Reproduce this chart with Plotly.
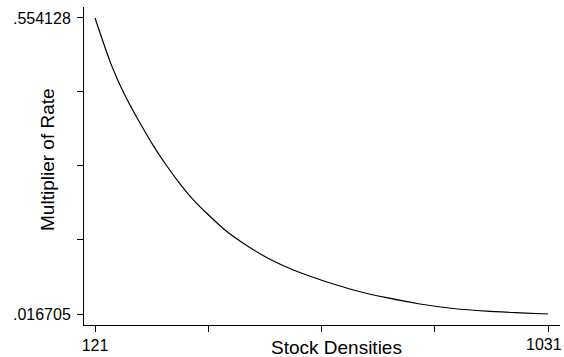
import plotly.graph_objects as go

# Estimated rate multiplier across stock densities
density = [121, 137.7, 151.1, 164.6, 177.9, 191.3, 211.4, 238.1, 265.0, 291.8,
           318.5, 345.4, 382.1, 425.7, 472.5, 519.3, 566.4, 613.2, 639.9, 707.0,
           773.9, 840.8, 907.9, 974.8, 1031]
multiplier = [0.554128, 0.5095, 0.4753, 0.4456, 0.4198, 0.3960, 0.3633, 0.3223,
              0.2858, 0.2529, 0.2239, 0.1995, 0.1692, 0.1411, 0.1160, 0.0966,
              0.0812, 0.0675, 0.0603, 0.0463, 0.0349, 0.0267, 0.0218, 0.0189,
              0.016705]

x_ticks = [121, 348.5, 576, 803.5, 1031]
x_labels = ["121", "", "", "", ""]
x_end_label = "1031"
y_ticks = [0.016705, 0.15106, 0.285417, 0.419773, 0.554128]
y_labels = [".016705", "", "", "", ".554128"]

FONT = "Liberation Sans, Arial, sans-serif"
TICK_SIZE = 16
TITLE_SIZE = 19

fig = go.Figure(
    go.Scatter(
        x=density, y=multiplier, mode="lines",
        line=dict(color="black", width=1.2, shape="spline", smoothing=0.6),
        hoverinfo="skip",
    )
)

fig.update_layout(
    width=564, height=357,
    margin=dict(l=84, r=4, t=7, b=32),
    paper_bgcolor="white", plot_bgcolor="white",
    showlegend=False,
    font=dict(family=FONT, color="black", size=TICK_SIZE),
)

fig.update_xaxes(
    range=[98.9, 1055.1], tickmode="array", tickvals=x_ticks, ticktext=x_labels,
    showgrid=False, zeroline=False, showline=True, linecolor="black", linewidth=1,
    ticks="outside", ticklen=6, tickcolor="black", tickwidth=1,
    tickfont=dict(size=TICK_SIZE),
)
fig.update_yaxes(
    range=[-0.00327, 0.574], tickmode="array", tickvals=y_ticks, ticktext=y_labels,
    showgrid=False, zeroline=False, showline=True, linecolor="black", linewidth=1,
    ticks="outside", ticklen=6, tickcolor="black", tickwidth=1,
    tickfont=dict(size=TICK_SIZE), ticklabelstandoff=3,
)

# right-end tick label, nudged inward so it stays inside the page
fig.add_annotation(
    text=x_end_label, xref="x", yref="paper", x=x_ticks[-1], y=-0.0613,
    xanchor="center", yanchor="middle", xshift=-4,
    showarrow=False, font=dict(size=TICK_SIZE),
)

fig.add_annotation(
    text="Stock Densities", xref="paper", yref="paper",
    x=0.531, y=-0.0723, xanchor="center", yanchor="middle",
    showarrow=False, font=dict(size=TITLE_SIZE),
)
fig.add_annotation(
    text="Multiplier of Rate", xref="paper", yref="paper",
    x=-0.0756, y=0.519, xanchor="center", yanchor="middle",
    textangle=-90, showarrow=False, font=dict(size=TITLE_SIZE),
)

fig.write_html("out.html")
